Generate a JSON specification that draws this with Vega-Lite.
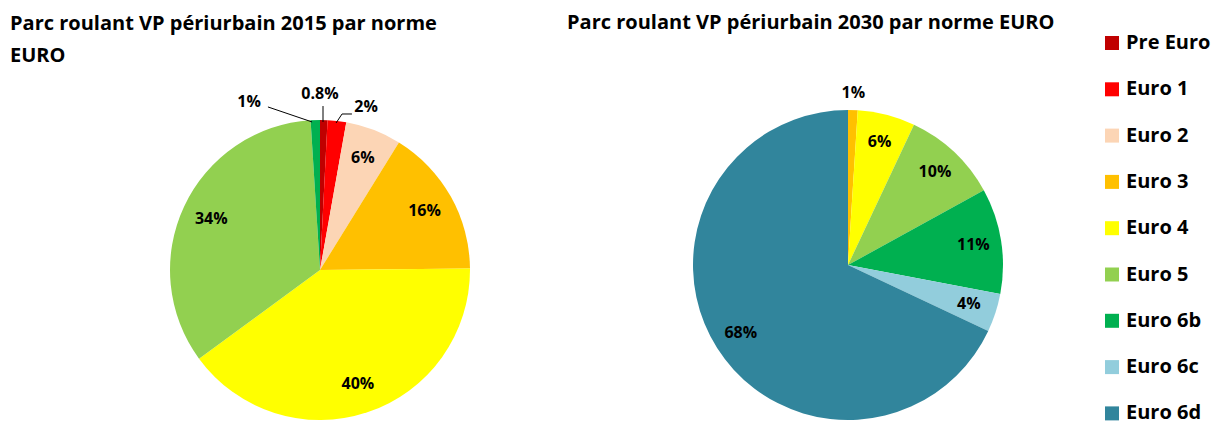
{
  "$schema": "https://vega.github.io/schema/vega-lite/v6.json",
  "background": "white",
  "padding": {"left": 10, "top": 13, "right": 0, "bottom": 0},
  "config": {
    "view": {"stroke": null},
    "font": "Open Sans",
    "title": {"font": "Open Sans", "fontSize": 20, "fontWeight": "bold", "anchor": "start", "color": "black", "lineHeight": 32}
  },
  "datasets": {
    "parc": [
      {"annee": 2015, "norme": "Pre Euro", "ordre": 1, "pct": 0.8, "label": "0.8%"},
      {"annee": 2015, "norme": "Euro 1", "ordre": 2, "pct": 2, "label": "2%"},
      {"annee": 2015, "norme": "Euro 2", "ordre": 3, "pct": 6, "label": "6%"},
      {"annee": 2015, "norme": "Euro 3", "ordre": 4, "pct": 16, "label": "16%"},
      {"annee": 2015, "norme": "Euro 4", "ordre": 5, "pct": 40, "label": "40%"},
      {"annee": 2015, "norme": "Euro 5", "ordre": 6, "pct": 34, "label": "34%"},
      {"annee": 2015, "norme": "Euro 6b", "ordre": 7, "pct": 1, "label": "1%"},
      {"annee": 2030, "norme": "Euro 3", "ordre": 4, "pct": 1, "label": "1%"},
      {"annee": 2030, "norme": "Euro 4", "ordre": 5, "pct": 6, "label": "6%"},
      {"annee": 2030, "norme": "Euro 5", "ordre": 6, "pct": 10, "label": "10%"},
      {"annee": 2030, "norme": "Euro 6b", "ordre": 7, "pct": 11, "label": "11%"},
      {"annee": 2030, "norme": "Euro 6c", "ordre": 8, "pct": 4, "label": "4%"},
      {"annee": 2030, "norme": "Euro 6d", "ordre": 9, "pct": 68, "label": "68%"}
    ],
    "leaders": [
      {"id": "a", "i": 1, "x": -0.347, "y": 1.087},
      {"id": "a", "i": 2, "x": -0.053, "y": 0.987},
      {"id": "b", "i": 1, "x": 0.02, "y": 1.093},
      {"id": "b", "i": 2, "x": 0.02, "y": 0.987},
      {"id": "c", "i": 1, "x": 0.107, "y": 0.98},
      {"id": "c", "i": 2, "x": 0.147, "y": 1.04},
      {"id": "c", "i": 3, "x": 0.213, "y": 1.04}
    ],
    "callouts": [
      {"label": "1%", "x": -0.473, "y": 1.12},
      {"label": "0.8%", "x": 0.0, "y": 1.173},
      {"label": "2%", "x": 0.307, "y": 1.087}
    ]
  },
  "hconcat": [
    {
      "width": 300,
      "height": 310,
      "title": {"text": ["Parc roulant VP périurbain 2015 par norme", "EURO"], "dx": -160, "offset": 20},
      "layer": [
        {
          "data": {"name": "parc"},
          "transform": [{"filter": "datum.annee == 2015"}],
          "mark": {"type": "arc", "outerRadius": 150},
          "encoding": {
            "theta": {"field": "pct", "type": "quantitative", "stack": true},
            "order": {"field": "ordre", "type": "quantitative"},
            "color": {
              "field": "norme", "type": "nominal",
              "scale": {
                "domain": ["Pre Euro", "Euro 1", "Euro 2", "Euro 3", "Euro 4", "Euro 5", "Euro 6b", "Euro 6c", "Euro 6d"],
                "range": ["#C00000", "#FF0000", "#FCD5B5", "#FFC000", "#FFFF00", "#92D050", "#00B050", "#92CDDC", "#31859C"]
              },
              "legend": {
                "title": null, "orient": "none", "legendX": 932, "legendY": -82,
                "symbolType": "square", "symbolSize": 196, "symbolStrokeWidth": 0,
                "labelFont": "Open Sans", "labelFontSize": 20, "labelFontWeight": "bold", "labelColor": "black",
                "labelOffset": 4, "rowPadding": 26.3, "labelLimit": 200
              }
            }
          }
        },
        {
          "data": {"name": "parc"},
          "transform": [{"filter": "datum.annee == 2015"}],
          "mark": {"type": "text", "radius": 120, "fontSize": 16, "fontWeight": "bold", "font": "Open Sans", "color": "black"},
          "encoding": {
            "theta": {"field": "pct", "type": "quantitative", "stack": true},
            "order": {"field": "ordre", "type": "quantitative"},
            "text": {"condition": {"test": "datum.pct < 5", "value": ""}, "field": "label"}
          }
        },
        {
          "data": {"name": "leaders"},
          "mark": {"type": "line", "color": "black", "strokeWidth": 1},
          "encoding": {
            "x": {"field": "x", "type": "quantitative", "scale": {"domain": [-1, 1], "nice": false, "zero": false}, "axis": null},
            "y": {"field": "y", "type": "quantitative", "scale": {"domain": [-1.0333, 1.0333], "nice": false, "zero": false}, "axis": null},
            "detail": {"field": "id"},
            "order": {"field": "i", "type": "quantitative"}
          }
        },
        {
          "data": {"name": "callouts"},
          "mark": {"type": "text", "fontSize": 16, "fontWeight": "bold", "font": "Open Sans", "color": "black", "align": "center", "baseline": "middle"},
          "encoding": {
            "x": {"field": "x", "type": "quantitative", "scale": {"domain": [-1, 1], "nice": false, "zero": false}, "axis": null},
            "y": {"field": "y", "type": "quantitative", "scale": {"domain": [-1.0333, 1.0333], "nice": false, "zero": false}, "axis": null},
            "text": {"field": "label"}
          }
        }
      ]
    },
    {
      "width": 310,
      "height": 300,
      "title": {"text": "Parc roulant VP périurbain 2030 par norme EURO", "dx": -126, "offset": 52},
      "layer": [
        {
          "data": {"name": "parc"},
          "transform": [{"filter": "datum.annee == 2030"}],
          "mark": {"type": "arc", "outerRadius": 155},
          "encoding": {
            "theta": {"field": "pct", "type": "quantitative", "stack": true},
            "order": {"field": "ordre", "type": "quantitative"},
            "color": {"field": "norme", "type": "nominal"}
          }
        },
        {
          "data": {"name": "parc"},
          "transform": [{"filter": "datum.annee == 2030"}],
          "mark": {"type": "text", "radius": 127, "fontSize": 16, "fontWeight": "bold", "font": "Open Sans", "color": "black"},
          "encoding": {
            "theta": {"field": "pct", "type": "quantitative", "stack": true},
            "order": {"field": "ordre", "type": "quantitative"},
            "text": {"condition": {"test": "datum.pct < 2", "value": ""}, "field": "label"}
          }
        },
        {
          "data": {"name": "parc"},
          "transform": [{"filter": "datum.annee == 2030"}],
          "mark": {"type": "text", "radius": 172, "fontSize": 16, "fontWeight": "bold", "font": "Open Sans", "color": "black"},
          "encoding": {
            "theta": {"field": "pct", "type": "quantitative", "stack": true},
            "order": {"field": "ordre", "type": "quantitative"},
            "text": {"condition": {"test": "datum.pct >= 2", "value": ""}, "field": "label"}
          }
        }
      ]
    }
  ],
  "spacing": 97,
  "resolve": {"scale": {"color": "shared", "theta": "independent", "x": "independent", "y": "independent"}}
}
